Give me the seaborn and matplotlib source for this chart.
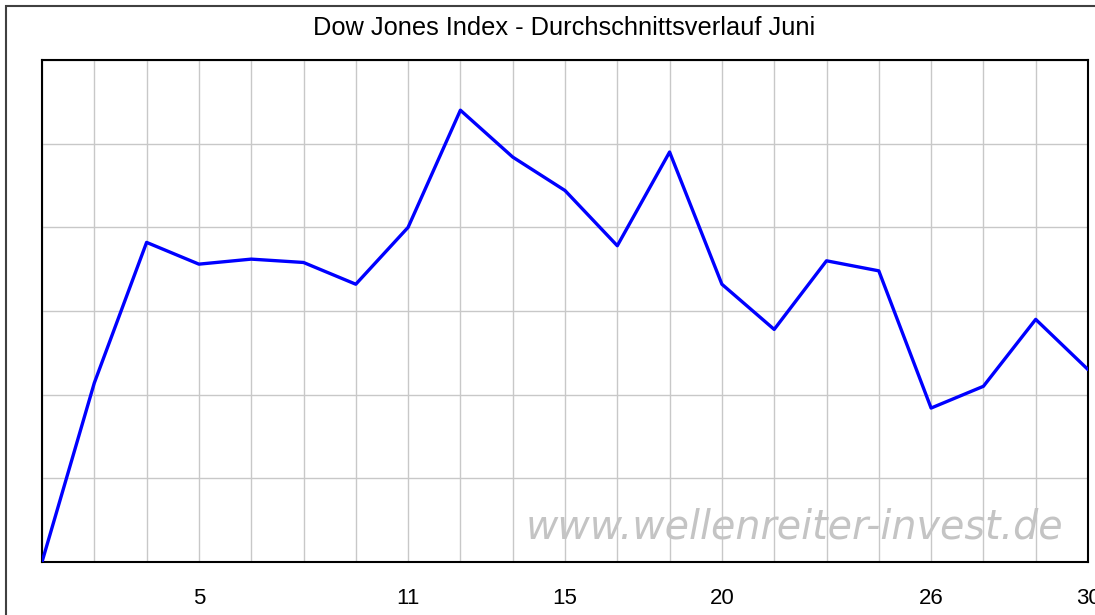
import numpy as np
import pandas as pd
import matplotlib
matplotlib.use("Agg")
import matplotlib.pyplot as plt
import seaborn as sns
from matplotlib.patches import Rectangle

# trading days in June (category axis) and average course values
days = [1, 2, 4, 5, 8, 9, 10, 11, 12, 13, 15, 16, 18, 20, 21, 23, 24, 26, 27, 28, 30]
avg_course = [0.00, 1.07, 1.91, 1.78, 1.81, 1.79, 1.66, 2.00, 2.70, 2.42, 2.22,
              1.89, 2.45, 1.66, 1.39, 1.80, 1.74, 0.92, 1.05, 1.45, 1.15]
shown_labels = [5, 11, 15, 20, 26, 30]

df = pd.DataFrame({"pos": np.arange(len(days)), "day": days, "val": avg_course})

sns.set_style("white")
plt.rcParams["font.family"] = ["Liberation Sans", "DejaVu Sans"]

fig = plt.figure(figsize=(10.95, 6.15), dpi=100)
ax = fig.add_axes([42 / 1095, 1 - 562 / 615, (1088 - 42) / 1095, (562 - 60) / 615])

sns.lineplot(data=df, x="pos", y="val", color="#0000ff", linewidth=2.4, ax=ax, zorder=3)

ax.set_xlim(0, len(days) - 1)
ax.set_ylim(0, 3)
ax.set_xticks(df["pos"])
ax.set_xticklabels([str(d) if d in shown_labels else "" for d in days], fontsize=16, color="black")
ax.set_yticks(np.arange(0, 3.01, 0.5))
ax.set_yticklabels([])
ax.tick_params(length=0, pad=19)
ax.grid(True, color="#c8c8c8", linewidth=1)
ax.set_axisbelow(True)
ax.set_xlabel("")
ax.set_ylabel("")
for s in ax.spines.values():
    s.set_color("black")
    s.set_linewidth(1.5)
    s.set_visible(True)

# watermark
ax.text(0.719, 0.07, "www.wellenreiter-invest.de", transform=ax.transAxes,
        ha="center", va="center", fontsize=28.5, style="italic", color="#c4c4c4",
        family="DejaVu Sans", zorder=2)

fig.text(564 / 1095, 1 - 28 / 615, "Dow Jones Index - Durchschnittsverlauf Juni",
         ha="center", va="center", fontsize=18.3, color="black")

# outer frame of the original graphic
fig.patches.append(Rectangle((6 / 1095, -0.1), 1.2, 1 - 6 / 615 + 0.1,
                             transform=fig.transFigure, fill=False,
                             edgecolor="#404040", linewidth=1.5))

fig.savefig("out.png", dpi=100)
